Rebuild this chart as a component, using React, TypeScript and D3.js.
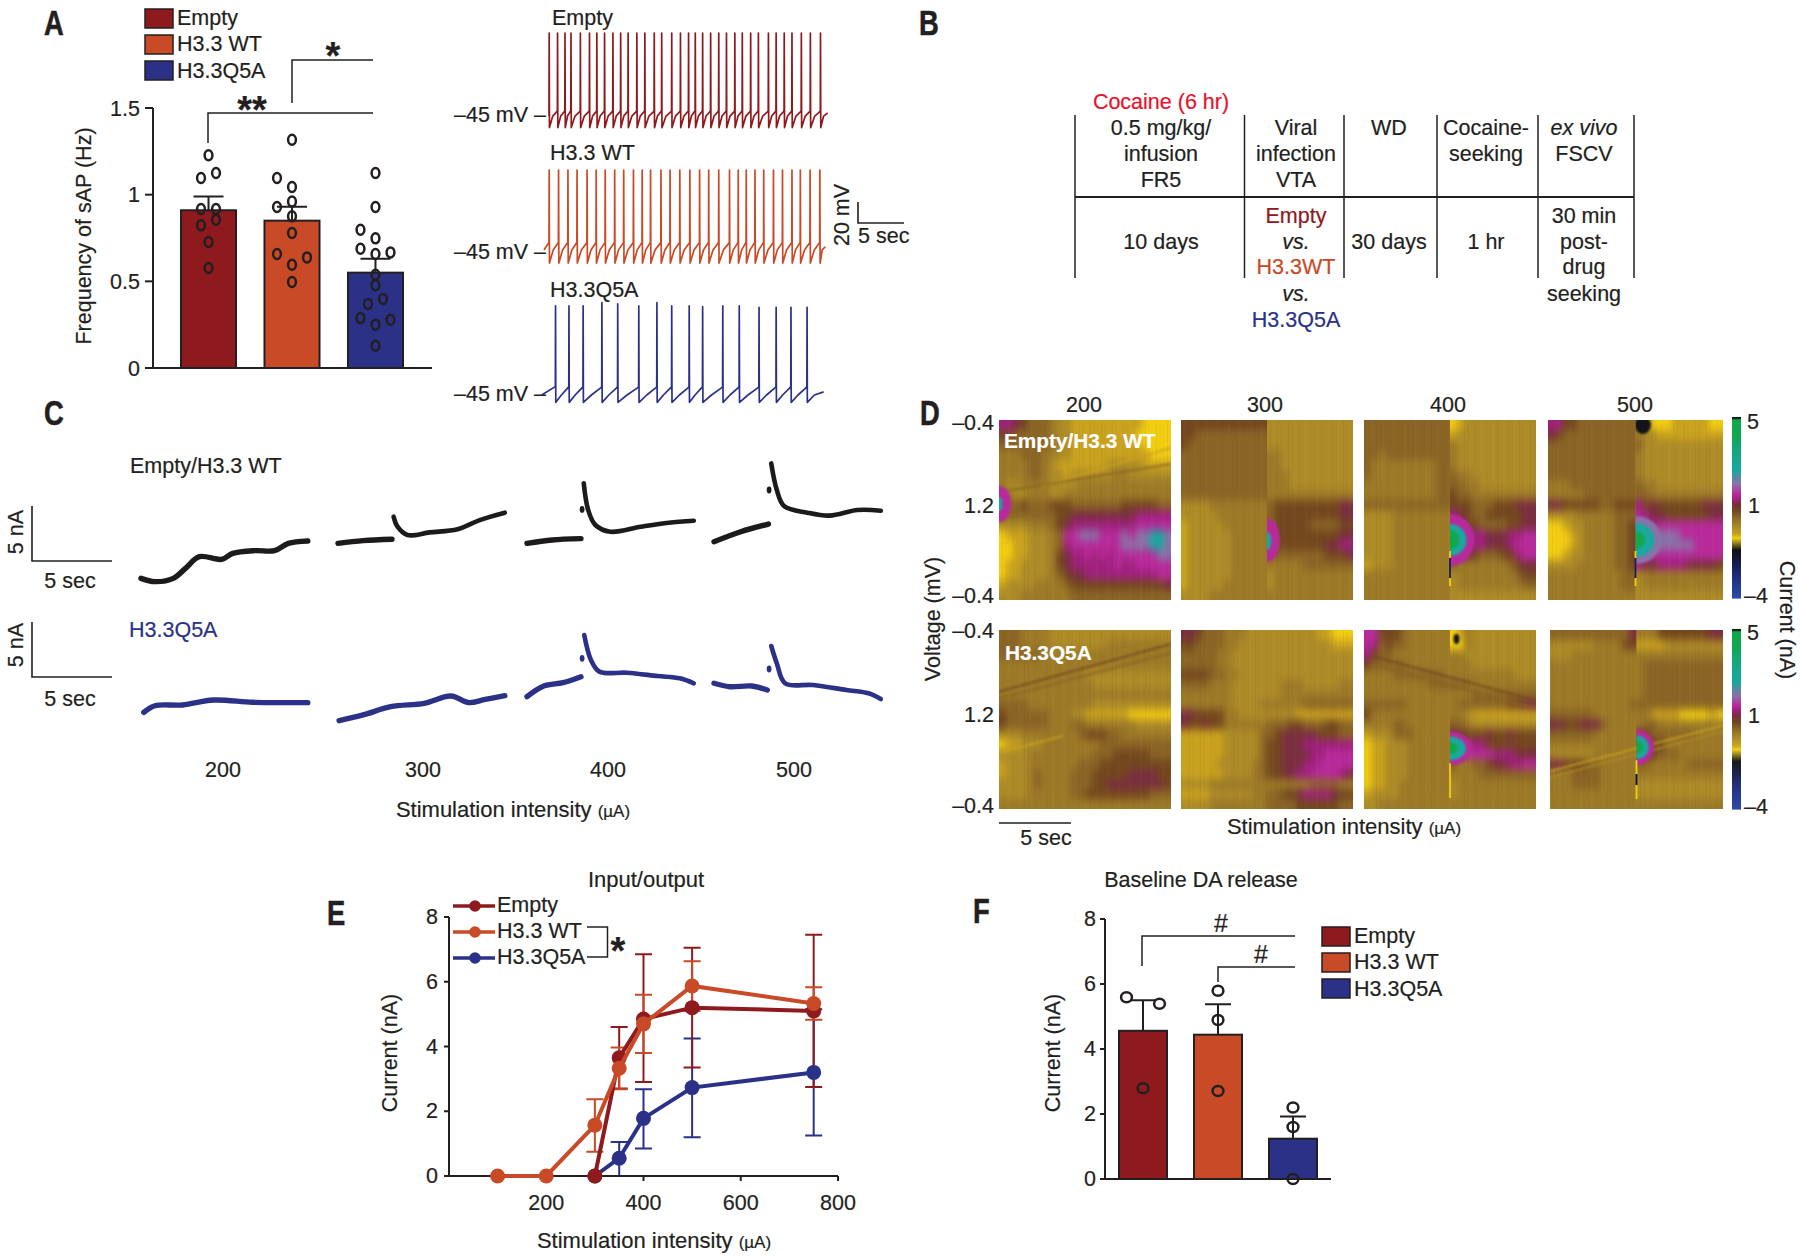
import React from "react";
import * as d3 from "d3";

const ink = "#231f20";
const font = "Liberation Sans";
const groups = ["Empty", "H3.3 WT", "H3.3Q5A"];
const groupColors = ["#8f1a1e", "#c84a26", "#2b3187"];

// A: spontaneous firing
const sapMeans = [0.91, 0.85, 0.55];
const sapErrors = [0.99, 0.93, 0.63];
const sapEmpty = [1.227, 1.096, 1.125, 0.917, 0.917, 0.856, 0.823, 0.727, 0.577];
const sapEmptySlots = [0, -1, 1, -1, 1, 1, -1, 0, 0];
const sapWt = [1.317, 1.096, 1.044, 0.96, 0.929, 0.875, 0.779, 0.658, 0.638, 0.596, 0.496];
const sapWtSlots = [0, -2, 0, 0, -2, 0, 0, -2, 2, 0, 0];
const sapQ5a = [1.125, 0.929, 0.798, 0.748, 0.688, 0.658, 0.667, 0.538, 0.477, 0.398, 0.369, 0.288, 0.279, 0.25, 0.129];
const sapQ5aSlots = [0, 0, -2, 0, -2, 0, 2, 0, 0, 1, -1, -2, 2, 0, 0];

// A: spike times (sec)
const spikesEmpty = [0, 0.91, 1.72, 2.37, 3.39, 4.38, 5.18, 6.02, 6.93, 7.77, 8.58, 9.53, 10.4, 11.42, 12.23, 13.32, 14.27, 15.15, 15.88, 16.68, 17.55, 18.43, 19.27, 20.18, 20.99, 21.9, 22.74, 23.83, 24.67, 25.55, 26.39, 27.41, 28.39, 29.49];
const spikesWt = [0, 1.02, 2.04, 3.03, 4.12, 5.11, 6.09, 7.12, 8.1, 9.16, 10.11, 11.02, 12.15, 13.14, 14.2, 15.29, 16.35, 17.34, 18.43, 19.6, 20.55, 21.42, 22.37, 23.32, 24.38, 25.36, 26.39, 27.3, 28.36, 29.42];
const spikesQ5a = [0.69, 2.15, 3.69, 5.73, 7.45, 9.74, 11.71, 13.32, 15.22, 16.68, 18.87, 20.66, 22.81, 24.67, 26.28, 28.03];
const peaksQ5a = [39.8, 39.8, 39.8, 42.9, 41.7, 39.8, 42.9, 39.8, 39.8, 39.1, 39.8, 39.8, 38.5, 38.5, 38.5, 38.5];

// B: protocol table
const tableRules = [1075, 1244.5, 1344, 1437, 1538, 1634];

// C: FSCV current traces, [sec, nA]
type Pt = [number, number];
const cTop200: Pt[][] = [[[0, 0.15], [0.85, -0.15], [1.97, 0.15], [2.71, 1.06], [3.56, 2.12], [4.92, 1.88], [5.59, 2.42], [6.95, 2.67], [8.14, 2.67], [8.98, 3.33], [10.17, 3.55]]];
const cTop300: Pt[][] = [[[0, 3.33], [1.53, 3.58], [3.29, 3.7]], [[3.39, 5.76], [3.63, 4.85], [4.24, 4.09], [5.59, 4.33], [7.29, 4.61], [8.64, 5.45], [10.17, 6.12]]];
const cTop400: Pt[][] = [[[0, 3.33], [1.53, 3.64], [3.29, 3.76]], [[3.46, 8.79], [3.73, 6.36], [4.17, 5.0], [5.08, 4.39], [6.95, 4.85], [8.64, 5.21], [10.17, 5.39]]];
const cTop500: Pt[][] = [[[0, 3.48], [1.63, 4.39], [3.32, 5.09]], [[3.49, 10.6], [3.83, 8.18], [4.27, 6.73], [5.69, 6.12], [7.05, 5.85], [8.75, 6.36], [10.17, 6.3]]];
const cLow200: Pt[][] = [[[0.17, -1.12], [0.85, -0.52], [2.54, -0.45], [4.41, 0], [6.78, -0.21], [8.81, -0.24], [10.17, -0.24]]];
const cLow300: Pt[][] = [[[0.07, -1.88], [1.53, -1.36], [3.22, -0.61], [5.25, -0.3], [6.88, 0.36], [7.97, -0.24], [8.98, 0.06], [10.17, 0.39]]];
const cLow400: Pt[][] = [[[0, 0.3], [1.02, 1.27], [2.2, 1.58], [3.29, 2.12]], [[3.49, 5.91], [3.9, 3.64], [4.41, 2.58], [6.1, 2.48], [7.97, 2.18], [9.32, 1.97], [10.17, 1.52]]];
const cLow500: Pt[][] = [[[0, 1.52], [0.95, 1.21], [2.31, 1.27], [3.25, 0.91]], [[3.49, 4.91], [3.83, 3.33], [4.34, 1.52], [6.03, 1.36], [8.07, 0.91], [9.42, 0.61], [10.17, 0.09]]];
const cDotsTop: Pt[] = [[3.36, 6.42], [3.36, 8.18]];
const cDotsLow: Pt[] = [[3.36, 3.79], [3.36, 2.82]];
const stimLabels = ["200", "300", "400", "500"];

// D: colour plots, one char per cell, see levelCurrent
const levelCurrent: Record<string, number> = { c: -1.7, "0": -1, "1": -0.8, "2": -0.45, "3": -0.2, "4": 0.05, "5": 0.35, "6": 0.7, "7": 0.95, "8": 1.2, "9": 1.7, a: 2.4, b: 4.2 };
const colorStops: [number, string][] = [[-4, "#2c4ba6"], [-3, "#1f3080"], [-2.2, "#141a4a"], [-1.6, "#121212"], [-1.3, "#7d7020"], [-1, "#f2cd12"], [-0.8, "#c9a21f"], [-0.45, "#ad8b28"], [-0.2, "#9c7a28"], [0.05, "#8a6526"], [0.35, "#74481f"], [0.7, "#7a2f40"], [0.95, "#a0207f"], [1.2, "#b82a9c"], [1.7, "#8a72a8"], [2.4, "#18a8a0"], [3.5, "#12a878"], [4.2, "#12a84c"], [4.92, "#12a84c"], [5, "#111111"]];
const heatEmpty200 = [
  "776544432211111111110000", "554444432211111111100000", "444444432211111111110000", "333444332211111111111000",
  "333344321111111222221111", "333344322122222233222222", "322333322223333333333333", "332233322333333333333333",
  "444544455544444445555544", "444444445566666666677777", "222233345677777777788888", "011122234889998889899aa9",
  "001122234788888889999aa9", "001122235677878788888899", "011222235677777787788888", "011222234566777777777788",
  "122223333455555555555556", "222333333344444444444444"];
const heatEmpty300 = [
  "555555555555222222222222", "554444444444222222222222", "544444444444222222222222", "444444444444332222222222",
  "444444444444332222222222", "444444444444333222222222", "444444444444333222222222", "444444444444333333333333",
  "222233333333455555555566", "222223333333455555555566", "122222333333455555444455", "122222233333555555555566",
  "122222233333555555556677", "122222233333444444445556", "122222233333333334444444", "122222233333233333333333",
  "122222333333233333333333", "222233333333333333333333"];
const heatEmpty400 = [
  "444444444444012222222222", "444444444444122222222222", "444444444444322222222222", "443444444444322222222222",
  "433333333344322222222222", "433333333344433222222222", "333333333344443322222222", "333333333344544333333333",
  "444444444444555444555666", "222233333333765445555566", "222233333333875544445566", "222233333333887776667788",
  "222233333333887776667888", "222233333333776544455788", "122233333333433333334566", "333333333333233333333455",
  "333333333333233333333344", "333333333333222222222222"];
const heatEmpty500 = [
  "775544444444330001111100", "654444444444322111111111", "444444444444422222222222", "444444444444322222222222",
  "444444444444322222222222", "444444444444322222222222", "333444444444433222222222", "333334444444443333333333",
  "665555544555756555555666", "222233333444876655555566", "001223333445887888888888", "000123333445889999888888",
  "000123333445889999998888", "001223333445888888888888", "222233333445766777766665", "333333333344233333333333",
  "333333333344233333333333", "333333333333222222222222"];
const heatQ5a200 = [
  "444333322222222222222222", "444333322222222333333333", "444444333333333333333333", "333333333333333333333333",
  "333333333333222222222222", "333333333333322222222222", "333333333333333333333333", "444433333333322222222222",
  "544444433322111111000000", "544444433344333333322222", "222333333334555443333333", "011222333333334444444444",
  "222233333333344455555444", "122233333334445555555555", "122234333344455555666655", "222234333344455666666665",
  "222233333344555555555444", "333333333333333333333333"];
const heatQ5a300 = [
  "665444333222222222211000", "554444332222222222222111", "444443322222222222222222", "444443322222222222222222",
  "555544332222222222222222", "444433322222223332222233", "333333322222223333333333", "333333322223333334444444",
  "665555332222222211111111", "655655333333444554445544", "111111222224456666655544", "111111222224556667777777",
  "111111222224556666778888", "111112222234556667788888", "111111222234556677888876", "222233333333333333444433",
  "111122222233445567777655", "222233333333444455555544"];
const heatQ5a400 = [
  "885554333333013222222222", "874544333333003222222222", "754433333333332222222222", "544444333333333222222222",
  "333344444443333333333222", "333333333444444333333333", "333333333333333444444444", "444444333333344444445566",
  "533333333333332111111111", "333344333333443222222222", "122244433333665556556555", "011222333333558775555555",
  "011222333333778888777666", "011222333333433445667788", "011222333333333344444444", "011223333333233333333333",
  "122223333333233333333333", "223333333333333333333333"];
const heatQ5a500 = [
  "444444444446333555555566", "222222333355111122222222", "222333333333333333333333", "333333333333344444444444",
  "333333333333344444444444", "333333333333344444444444", "333333333333344444444444", "333333333334444444444444",
  "444444333333331111000010", "665566643333344333333333", "444444333333654444443333", "333333333333775533333333",
  "222222333333655444333333", "665554433333443333344444", "333444433333333333333333", "333444433333222222222222",
  "333333333333222222222222", "333333333333333333333333"];
const heatSplit = [false, true, true, true, false, false, true, true];
// faint diagonal bands, [panel, col, row, col, row, level]
const heatBands: [number, number, number, number, number, string][] = [
  [0, 6, 6.6, 24, 2.8, "1"], [0, 0, 7.2, 24, 4.4, "4"],
  [4, 0, 6.2, 24, 1.4, "5"], [4, 0, 6.9, 24, 2.3, "4"], [4, 0, 12.4, 9, 10.6, "1"],
  [6, 1, 2.6, 24, 7.1, "5"], [6, 1, 3.5, 24, 7.9, "4"],
  [7, 0, 14.2, 24, 9.6, "1"], [7, 0, 14.8, 24, 10.2, "2"]];
// current peak after the stimulation, [panel, col, row, col radius, row radius, level]
const heatPeaks: [number, number, number, number, number, string][] = [
  [0, 0, 8.4, 1.7, 1.8, "8"], [0, 0, 8.4, 0.5, 0.7, "a"],
  [1, 12, 12, 1.8, 2.2, "8"], [1, 12, 12.1, 0.6, 0.9, "a"],
  [2, 12, 12, 3.4, 2.6, "8"], [2, 12, 12, 2.3, 1.6, "a"], [2, 12, 12, 1.3, 1, "b"],
  [3, 12, 12, 3.6, 2.4, "9"], [3, 12, 12, 2.6, 1.7, "a"], [3, 12, 12, 1.3, 0.9, "b"], [3, 13, 0.5, 1.1, 0.9, "c"],
  [6, 12, 11.9, 3, 1.7, "8"], [6, 12, 11.9, 2.2, 1.2, "a"], [6, 12, 11.9, 1.1, 0.6, "b"], [6, 12.9, 0.9, 0.4, 0.5, "c"],
  [7, 12, 11.8, 2.4, 1.8, "8"], [7, 12, 11.8, 1.7, 1.2, "a"], [7, 12, 11.8, 0.9, 0.7, "b"]];
// stimulation artefact, [panel, row, row, current]
const stimMarks: [number, number, number, number][] = [
  [2, 13.1, 13.8, -1], [2, 13.8, 15.8, -2.4], [2, 15.8, 16.6, -1],
  [3, 13.1, 13.8, -1], [3, 13.8, 15.8, -2.4], [3, 15.8, 16.6, -1],
  [6, 13.4, 16.9, -1],
  [7, 13.1, 14.5, -1], [7, 14.5, 15.6, -1.7], [7, 15.6, 17, -1]];

// E: input/output
const ioStim = [100, 200, 300, 350, 400, 500, 750];
const ioEmpty = [null, null, 0, 3.65, 4.85, 5.2, 5.1];
const ioEmptyHi = [null, null, null, 4.6, 6.85, 7.05, 7.45];
const ioEmptyLo = [null, null, null, 2.7, 2.9, 3.35, 2.75];
const ioWt = [0, 0, 1.57, 3.33, 4.7, 5.87, 5.33];
const ioWtHi = [null, null, 2.37, 3.97, 5.6, 6.63, 5.83];
const ioWtLo = [null, null, 0.75, 2.68, 3.8, 5.1, 4.83];
const ioQ5a = [null, null, 0, 0.55, 1.78, 2.73, 3.2];
const ioQ5aHi = [null, null, null, 1.05, 2.68, 4.25, 5.15];
const ioQ5aLo = [null, null, null, 0, 0.85, 1.2, 1.25];

// F: baseline release
const daMeans = [4.56, 4.44, 1.24];
const daErrors = [5.5, 5.38, 1.92];
const daEmpty = [5.59, 5.39, 2.79];
const daEmptySlots = [-1, 1, 0];
const daWt = [5.79, 4.89, 2.71];
const daQ5a = [2.2, 1.6, 0];

const T = ({ x, y, size = 21.5, anchor = "start", fill = ink, weight, italic, rotate, children }: any) => (
  <text
    x={x}
    y={y}
    fontSize={size}
    textAnchor={anchor}
    fill={fill}
    stroke={fill}
    strokeWidth={0.2}
    fontWeight={weight}
    fontStyle={italic ? "italic" : undefined}
    transform={rotate ? `rotate(${rotate} ${x} ${y})` : undefined}
  >
    {children}
  </text>
);

// the journal letters are condensed, no narrow face is installed
const PanelLetter = ({ x, y, children }: any) => (
  <text transform={`translate(${x} ${y}) scale(0.76 1)`} fontWeight={700} fontSize={36} fill={ink} stroke={ink} strokeWidth={0.6}>
    {children}
  </text>
);

const Rule = ({ d, w = 1.5 }: any) => <path d={d} fill="none" stroke={ink} strokeWidth={w} />;

const StimTitle = ({ x, y, anchor = "middle" }: any) => (
  <T x={x} y={y} anchor={anchor} size={22}>
    Stimulation intensity <tspan fontSize={17}>(µA)</tspan>
  </T>
);

const Swatches = ({ x, ys, tx, bl }: any) => (
  <g>
    {groups.map((g, i) => (
      <g key={g}>
        <rect x={x} y={ys[i]} width={28} height={19} fill={groupColors[i]} stroke={ink} strokeWidth={1.5} />
        <T x={tx} y={bl[i]}>{g}</T>
      </g>
    ))}
  </g>
);

const PanelA = () => {
  const y = d3.scaleLinear([0, 1.5], [368, 108]);
  const x = d3.scaleBand(groups, [181, 403]).paddingInner(0.341);
  const slot = d3.scaleLinear([-2, 2], [-15, 15]);
  const sets = [
    [sapEmpty, sapEmptySlots],
    [sapWt, sapWtSlots],
    [sapQ5a, sapQ5aSlots],
  ];
  return (
    <g>
      <PanelLetter x={44} y={35}>A</PanelLetter>
      <Swatches x={145} ys={[9, 35, 61]} tx={177} bl={[25, 51, 78]} />
      {groups.map((g, i) => {
        const bx = x(g)!;
        const cx = bx + x.bandwidth() / 2;
        return (
          <g key={g}>
            <rect x={bx} y={y(sapMeans[i])} width={x.bandwidth()} height={y(0) - y(sapMeans[i])} fill={groupColors[i]} stroke={ink} strokeWidth={2} />
            <Rule d={`M${cx},${y(sapMeans[i])}V${y(sapErrors[i])}M${cx - 15},${y(sapErrors[i])}H${cx + 15}`} w={2} />
            {sets[i][0].map((v, j) => (
              <ellipse key={j} cx={cx + slot(sets[i][1][j])} cy={y(v)} rx={3.9} ry={5} fill="none" stroke={ink} strokeWidth={2.5} />
            ))}
          </g>
        );
      })}
      <Rule d={`M153,${y(1.5)}V${y(0)}M145,${y(0)}H432`} w={2} />
      {[0, 0.5, 1, 1.5].map((t) => (
        <g key={t}>
          <Rule d={`M145,${y(t)}H153`} w={2} />
          <T x={140} y={y(t) + 7.5} anchor="end">{t}</T>
        </g>
      ))}
      <T x={91} y={236} anchor="middle" rotate={-90}>Frequency of sAP (Hz)</T>
      <Rule d="M208,143V113H373" />
      <Rule d="M292,103V60H373" />
      <T x={333} y={69} size={38} weight={700} anchor="middle">*</T>
      <T x={252} y={123} size={38} weight={700} anchor="middle">**</T>
    </g>
  );
};

// one sweep: rise to threshold, spike, after-hyperpolarisation
const sweep = (spikes: number[], peaks: number[], start: number, end: number, pre: number, trough: number, rest: number) => {
  const pts: Pt[] = [[start, rest]];
  spikes.forEach((t, i) => {
    const next = i + 1 < spikes.length ? spikes[i + 1] : end;
    pts.push([t, pre], [t + 0.02, peaks[i]], [t + 0.05, trough], [t + (next - t) * 0.45, rest]);
    if (i + 1 < spikes.length) pts.push([next - 0.08, pre - 1]);
  });
  pts.push([end, rest + 3]);
  return pts;
};

const Traces = () => {
  const x = d3.scaleLinear([0, 5], [549, 595]);
  const rows = [
    { label: "Empty", tx: 552, ty: 25, zero: 115, bl: 122, pts: sweep(spikesEmpty, spikesEmpty.map(() => 33), 0, 30.29, -41, -57, -46) },
    { label: "H3.3 WT", tx: 550, ty: 160, zero: 252, bl: 259, pts: sweep(spikesWt, spikesWt.map(() => 33), -0.55, 30.04, -36, -55.5, -43) },
    { label: "H3.3Q5A", tx: 550, ty: 297, zero: 395, bl: 401, pts: sweep(spikesQ5a, peaksQ5a, -0.8, 29.85, -37, -52, -45) },
  ];
  return (
    <g>
      {rows.map((r, i) => {
        const y = d3.scaleLinear([-45, -25], [r.zero, r.zero - 21]);
        const line = d3.line<Pt>((d) => x(d[0]), (d) => y(d[1]));
        return (
          <g key={r.label}>
            <T x={r.tx} y={r.ty}>{r.label}</T>
            <T x={454} y={r.bl}>–45 mV –</T>
            <path d={line(r.pts) as string} fill="none" stroke={groupColors[i]} strokeWidth={1.7} strokeLinejoin="round" />
          </g>
        );
      })}
      <Rule d="M858,202V223H904" w={1.6} />
      <T x={849} y={215} anchor="middle" rotate={-90}>20 mV</T>
      <T x={858} y={243}>5 sec</T>
    </g>
  );
};

const PanelB = () => {
  const col = [1161, 1296, 1389, 1486, 1584];
  const rows: [number, number, string, string?, boolean?][] = [
    [0, 135, "0.5 mg/kg/"], [0, 161, "infusion"], [0, 187, "FR5"], [0, 249, "10 days"],
    [1, 135, "Viral"], [1, 161, "infection"], [1, 187, "VTA"],
    [1, 223, "Empty", groupColors[0]], [1, 249, "vs.", ink, true], [1, 274, "H3.3WT", groupColors[1]], [1, 301, "vs.", ink, true], [1, 327, "H3.3Q5A", groupColors[2]],
    [2, 135, "WD"], [2, 249, "30 days"],
    [3, 135, "Cocaine-"], [3, 161, "seeking"], [3, 249, "1 hr"],
    [4, 135, "ex vivo", ink, true], [4, 161, "FSCV"], [4, 223, "30 min"], [4, 249, "post-"], [4, 274, "drug"], [4, 301, "seeking"],
  ];
  return (
    <g>
      <PanelLetter x={919} y={35}>B</PanelLetter>
      <T x={1161} y={109} anchor="middle" fill="#e8112d">Cocaine (6 hr)</T>
      {tableRules.map((r) => <Rule key={r} d={`M${r},115V278`} />)}
      <Rule d="M1075,197H1634" w={2} />
      {rows.map(([c, y, s, f, it], i) => (
        <T key={i} x={col[c]} y={y} anchor="middle" fill={f || ink} italic={it}>{s}</T>
      ))}
    </g>
  );
};

const PanelC = () => {
  const starts = [141, 338, 527, 714];
  const x = (s: number) => d3.scaleLinear([0, 5], [s, s + 82]);
  const rows = [
    { zero: 580, color: "#1c1a1a", sets: [cTop200, cTop300, cTop400, cTop500], dots: cDotsTop },
    { zero: 700, color: "#2b3187", sets: [cLow200, cLow300, cLow400, cLow500], dots: cDotsLow },
  ];
  return (
    <g>
      <PanelLetter x={44} y={425}>C</PanelLetter>
      <T x={130} y={473}>Empty/H3.3 WT</T>
      <T x={129} y={637} fill={groupColors[2]}>H3.3Q5A</T>
      {[[506, 561, 532, 588], [622, 677, 645, 706]].map(([a, b, c, d]) => (
        <g key={a}>
          <Rule d={`M32,${a}V${b}H112`} w={1.6} />
          <T x={23} y={c} anchor="middle" rotate={-90}>5 nA</T>
          <T x={70} y={d} anchor="middle">5 sec</T>
        </g>
      ))}
      {rows.map((r) => {
        const y = d3.scaleLinear([0, 5], [r.zero, r.zero - 55]);
        return r.sets.map((segs, k) => {
          const sx = x(starts[k]);
          const line = d3.line<Pt>((d) => sx(d[0]), (d) => y(d[1])).curve(d3.curveCatmullRom.alpha(0.5));
          return (
            <g key={`${r.zero}${k}`}>
              {segs.map((s, j) => (
                <path key={j} d={line(s) as string} fill="none" stroke={r.color} strokeWidth={j === 1 ? 4.6 : 5.4} strokeLinecap="round" strokeLinejoin="round" />
              ))}
              {k >= 2 && <ellipse cx={sx(r.dots[k - 2][0])} cy={y(r.dots[k - 2][1])} rx={2.4} ry={3.4} fill={r.color} />}
            </g>
          );
        });
      })}
      {stimLabels.map((s, i) => (
        <T key={s} x={[223, 423, 608, 794][i]} y={777} anchor="middle">{s}</T>
      ))}
      <StimTitle x={513} y={817} />
    </g>
  );
};

const current = d3
  .scaleLinear<string>(colorStops.map((d) => d[0]), colorStops.map((d) => d[1]))
  .clamp(true);

const PanelD = () => {
  const heats = [heatEmpty200, heatEmpty300, heatEmpty400, heatEmpty500, heatQ5a200, heatQ5a300, heatQ5a400, heatQ5a500];
  const cols = [[999, 1171], [1181, 1353], [1364, 1536], [1548, 1723], [999, 1171], [1181, 1353], [1364, 1536], [1550, 1723]];
  const rowsY = [[420, 600], [630, 809]];
  const cur = (ch: string) => current(levelCurrent[ch]);
  const bar = d3.range(-4, 5.02, 0.05);
  return (
    <g>
      <PanelLetter x={920} y={425}>D</PanelLetter>
      <defs>
        <filter id="smear" x="-10%" y="-10%" width="120%" height="120%" colorInterpolationFilters="sRGB">
          <feGaussianBlur stdDeviation="3.2 4.2" />
        </filter>
        <filter id="soft" x="-20%" y="-20%" width="140%" height="140%" colorInterpolationFilters="sRGB">
          <feGaussianBlur stdDeviation="1.1" />
        </filter>
        <pattern id="grain" width="11" height="9" patternUnits="userSpaceOnUse">
          <rect x="1" width="1" height="9" fill="#3a2a05" opacity="0.05" />
          <rect x="4.5" width="1" height="9" fill="#3a2a05" opacity="0.03" />
          <rect x="7" width="1.5" height="9" fill="#f0d040" opacity="0.03" />
        </pattern>
        {heats.map((_, p) => {
          const [x0, x1] = cols[p];
          const [y0, y1] = rowsY[p < 4 ? 0 : 1];
          const mid = d3.scaleLinear([0, 24], [x0, x1])(12);
          return (
            <g key={p}>
              <clipPath id={`plot${p}`}>
                <rect x={x0} y={y0} width={x1 - x0} height={y1 - y0} />
              </clipPath>
              <clipPath id={`plot${p}a`}>
                <rect x={x0} y={y0} width={mid - x0} height={y1 - y0} />
              </clipPath>
              <clipPath id={`plot${p}b`}>
                <rect x={mid} y={y0} width={x1 - mid} height={y1 - y0} />
              </clipPath>
            </g>
          );
        })}
      </defs>
      {heats.map((rows, p) => {
        const [x0, x1] = cols[p];
        const [y0, y1] = rowsY[p < 4 ? 0 : 1];
        const gx = d3.scaleLinear([0, 24], [x0, x1]);
        const gy = d3.scaleLinear([0, 18], [y0, y1]);
        const cw = gx(1) - gx(0);
        const ch = gy(1) - gy(0);
        // blur each side of the stimulation on its own, so that the step stays sharp
        const parts = heatSplit[p] ? [[0, 12, "a"], [12, 24, "b"]] : [[0, 24, ""]];
        return (
          <g key={p} clipPath={`url(#plot${p})`}>
            <rect x={x0} y={y0} width={x1 - x0} height={y1 - y0} fill={current(-0.2)} />
            {parts.map(([from, to, tag]: any) => (
              <g key={tag} clipPath={`url(#plot${p}${tag})`}>
                <g filter="url(#smear)">
                  {rows.map((row, r) =>
                    row.split("").map((c, k) => {
                      if (k < from || k >= to) return null;
                      const padL = k === from ? 12 : 0;
                      const padR = k === to - 1 ? 12 : 0.5;
                      const padT = r === 0 ? 12 : 0;
                      const padB = r === 17 ? 12 : 0.5;
                      return <rect key={`${r}-${k}`} x={gx(k) - padL} y={gy(r) - padT} width={cw + padL + padR} height={ch + padT + padB} fill={cur(c)} />;
                    })
                  )}
                </g>
              </g>
            ))}
            <g filter="url(#soft)">
              {heatBands.filter((b) => b[0] === p).map((b, i) => (
                <line key={i} x1={gx(b[1])} y1={gy(b[2])} x2={gx(b[3])} y2={gy(b[4])} stroke={cur(b[5])} strokeWidth={2.6} opacity={0.65} />
              ))}
            </g>
            <rect x={x0} y={y0} width={x1 - x0} height={y1 - y0} fill="url(#grain)" />
            <g clipPath={`url(#plot${p}${heatSplit[p] ? "b" : ""})`} filter="url(#soft)">
              {heatPeaks.filter((m) => m[0] === p).map((m, i) => (
                <ellipse key={i} cx={gx(m[1])} cy={gy(m[2])} rx={gx(m[3]) - gx(0)} ry={gy(m[4]) - gy(0)} fill={cur(m[5])} />
              ))}
            </g>
            {stimMarks.filter((m) => m[0] === p).map((m, i) => (
              <line key={i} x1={gx(12)} x2={gx(12)} y1={gy(m[1])} y2={gy(m[2])} stroke={current(m[3])} strokeWidth={1.8} />
            ))}
          </g>
        );
      })}
      <T x={1004} y={448} size={20.8} weight={700} fill="#fff">Empty/H3.3 WT</T>
      <T x={1005} y={660} size={20.8} weight={700} fill="#fff">H3.3Q5A</T>
      {stimLabels.map((s, i) => (
        <T key={s} x={[1084, 1265, 1448, 1635][i]} y={412} anchor="middle">{s}</T>
      ))}
      {[[430, 513, 603], [638, 722, 813]].map((b, i) => (
        <g key={i}>
          {["–0.4", "1.2", "–0.4"].map((t, j) => (
            <T key={j} x={994} y={b[j]} anchor="end">{t}</T>
          ))}
        </g>
      ))}
      {[[418, 598], [630, 809]].map(([a, b], i) => {
        const cy = d3.scaleLinear([-4, 5], [b, a]);
        return (
          <g key={i}>
            {bar.map((v) => (
              <rect key={v} x={1732} y={cy(v + 0.05)} width={9} height={cy(v) - cy(v + 0.05) + 0.6} fill={current(v)} />
            ))}
          </g>
        );
      })}
      {[[429, 513, 603], [640, 723, 814]].map((b, i) => (
        <g key={i}>
          <T x={1747} y={b[0]}>5</T>
          <T x={1748} y={b[1]}>1</T>
          <T x={1744} y={b[2]}>–4</T>
        </g>
      ))}
      <T x={940} y={619} anchor="middle" rotate={-90}>Voltage (mV)</T>
      <T x={1780} y={620} anchor="middle" rotate={90}>Current (nA)</T>
      <Rule d="M999,823H1071" w={1.6} />
      <T x={1046} y={845} anchor="middle">5 sec</T>
      <StimTitle x={1344} y={834} />
    </g>
  );
};

const PanelE = () => {
  const x = d3.scaleLinear([0, 800], [449, 838]);
  const y = d3.scaleLinear([0, 8], [1176, 917]);
  const series = [
    { i: 2, v: ioQ5a, hi: ioQ5aHi, lo: ioQ5aLo },
    { i: 0, v: ioEmpty, hi: ioEmptyHi, lo: ioEmptyLo },
    { i: 1, v: ioWt, hi: ioWtHi, lo: ioWtLo },
  ];
  const line = d3.line<number | null>((_, k) => x(ioStim[k]), (d) => y(d as number)).defined((d) => d !== null);
  return (
    <g>
      <PanelLetter x={327} y={925}>E</PanelLetter>
      <T x={646} y={887} anchor="middle" size={22}>Input/output</T>
      {series.map((s) =>
        s.v.map((_, k) => {
          if (s.hi[k] === null) return null;
          const cx = x(ioStim[k]);
          const a = y(s.hi[k] as number);
          const b = y(s.lo[k] as number);
          return <path key={`${s.i}${k}`} d={`M${cx},${a}V${b}M${cx - 8.5},${a}H${cx + 8.5}M${cx - 8.5},${b}H${cx + 8.5}`} fill="none" stroke={groupColors[s.i]} strokeWidth={2} />;
        })
      )}
      <Rule d={`M449,917V1176H838`} w={2} />
      {[0, 2, 4, 6, 8].map((t) => (
        <g key={t}>
          <Rule d={`M444,${y(t)}H449`} w={2} />
          <T x={438} y={y(t) + 7} anchor="end">{t}</T>
        </g>
      ))}
      {[200, 400, 600, 800].map((t) => (
        <g key={t}>
          <Rule d={`M${x(t)},1176V1181`} w={2} />
          <T x={x(t)} y={1210} anchor="middle">{t}</T>
        </g>
      ))}
      {series.map((s) => (
        <g key={s.i}>
          <path d={line(s.v) as string} fill="none" stroke={groupColors[s.i]} strokeWidth={4} />
          {s.v.map((v, k) => v !== null && <circle key={k} cx={x(ioStim[k])} cy={y(v)} r={7.5} fill={groupColors[s.i]} />)}
        </g>
      ))}
      {groups.map((g, i) => {
        const ly = [906, 932, 958][i];
        return (
          <g key={g}>
            <line x1={453} x2={495} y1={ly} y2={ly} stroke={groupColors[i]} strokeWidth={3.6} />
            <circle cx={475} cy={ly} r={5.8} fill={groupColors[i]} />
            <T x={497} y={ly + 6}>{g}</T>
          </g>
        );
      })}
      <Rule d="M587,927H607.5V957H587" />
      <T x={618} y={964} size={38} weight={700} anchor="middle">*</T>
      <T x={397} y={1053} anchor="middle" rotate={-90}>Current (nA)</T>
      <StimTitle x={654} y={1248} />
    </g>
  );
};

const PanelF = () => {
  const y = d3.scaleLinear([0, 8], [1179, 919]);
  const x = d3.scaleBand(groups, [1119, 1317]).paddingInner(0.36);
  const pts = [daEmpty, daWt, daQ5a];
  return (
    <g>
      <PanelLetter x={973} y={923}>F</PanelLetter>
      <T x={1201} y={887} anchor="middle">Baseline DA release</T>
      {groups.map((g, i) => {
        const bx = x(g)!;
        const cx = bx + x.bandwidth() / 2;
        return (
          <g key={g}>
            <rect x={bx} y={y(daMeans[i])} width={x.bandwidth()} height={y(0) - y(daMeans[i])} fill={groupColors[i]} stroke={ink} strokeWidth={2} />
            <Rule d={`M${cx},${y(daMeans[i])}V${y(daErrors[i])}M${cx - 13},${y(daErrors[i])}H${cx + 13}`} w={2} />
          </g>
        );
      })}
      <Rule d={`M1105,${y(8)}V${y(0)}M1100,${y(0)}H1331`} w={2} />
      {groups.map((g, i) => {
        const cx = x(g)! + x.bandwidth() / 2;
        return pts[i].map((v, j) => (
          <ellipse key={`${i}${j}`} cx={cx + (i === 0 ? daEmptySlots[j] * 16.5 : 0)} cy={y(v)} rx={5.4} ry={5} fill="none" stroke={ink} strokeWidth={2.5} />
        ));
      })}
      {[0, 2, 4, 6, 8].map((t) => (
        <g key={t}>
          <Rule d={`M1100,${y(t)}H1105`} w={2} />
          <T x={1096} y={y(t) + 7} anchor="end">{t}</T>
        </g>
      ))}
      <T x={1060} y={1053} anchor="middle" rotate={-90}>Current (nA)</T>
      <Rule d="M1142,966V936H1295" />
      <Rule d="M1218,982V967H1295" />
      <T x={1221} y={932} anchor="middle" size={25}>#</T>
      <T x={1261} y={963} anchor="middle" size={25}>#</T>
      <Swatches x={1322} ys={[927, 953, 979]} tx={1354} bl={[943, 969, 996]} />
    </g>
  );
};

export default function App() {
  return (
    <svg width={1800} height={1257} fontFamily={font} style={{ position: "absolute", left: 0, top: 0, background: "#fff" }}>
      <PanelA />
      <Traces />
      <PanelB />
      <PanelC />
      <PanelD />
      <PanelE />
      <PanelF />
    </svg>
  );
}
